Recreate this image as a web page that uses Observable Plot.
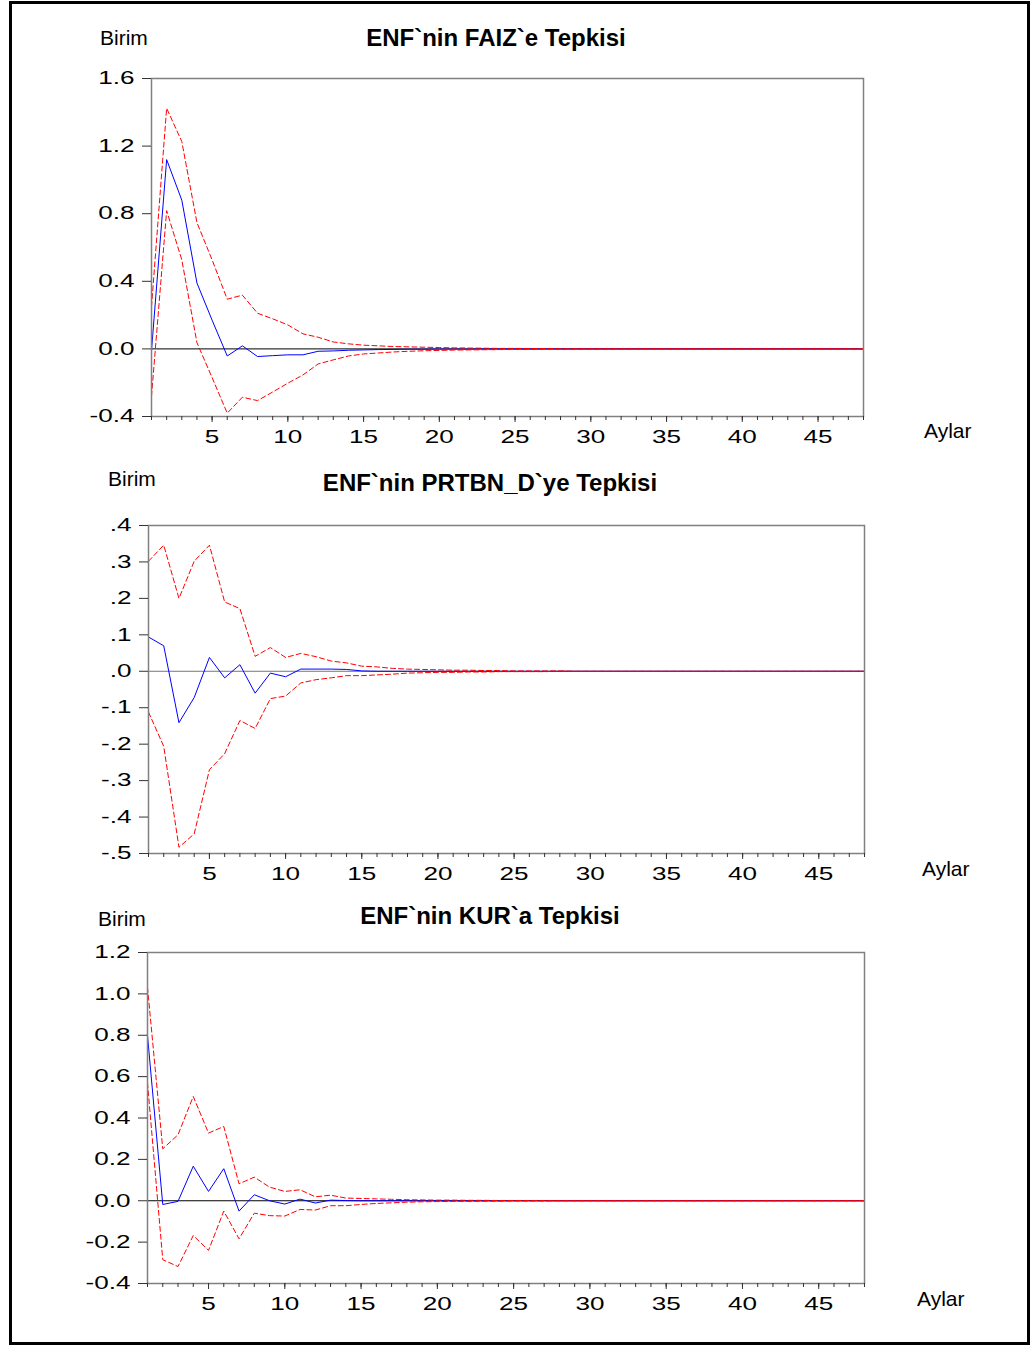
<!DOCTYPE html>
<html>
<head>
<meta charset="utf-8">
<script src="https://cdn.jsdelivr.net/npm/d3@7"></script>
<script src="https://cdn.jsdelivr.net/npm/@observablehq/plot@0.6"></script>
<style>
  html, body { margin: 0; padding: 0; background: #fff; }
  #root { position: relative; width: 1035px; height: 1345px; overflow: hidden; font-family: "Liberation Sans", Arial, sans-serif; }
  .border { position: absolute; left: 9px; top: 1px; width: 1015px; height: 1338px; border: 3px solid #000; }
  .lbl { position: absolute; font-size: 21px; color: #000; white-space: nowrap; line-height: 1; }
  .ttl { position: absolute; font-size: 24px; font-weight: bold; color: #000; white-space: nowrap; line-height: 1; transform: translateX(-50%); }
  .panel { position: absolute; left: 0; }
</style>
</head>
<body>
<div id="root">
  <div class="border"></div>
</div>
<script>
// ---------- data ----------
const periods = [1,2,3,4,5,6,7,8,9,10,11,12,13,14,15,16,17,18,19,20,21,22,23,24,25,26,27,28,29,30,31,32,33,34,35,36,37,38,39,40,41,42,43,44,45,46,47,48];
const xLabels = [5,10,15,20,25,30,35,40,45];

// Panel 1: ENF`nin FAIZ`e Tepkisi
const faizResp  = [-0.01,1.12,0.88,0.39,0.17,-0.042,0.018,-0.045,-0.04,-0.035,-0.035,-0.014,-0.012,-0.008,-0.006,-0.004,-0.003,-0.002,-0.002,-0.001,-0.001,-0.001,0,0,0,0,0,0,0,0,0,0,0,0,0,0,0,0,0,0,0,0,0,0,0,0,0,0];
const faizUpper = [0.25,1.424,1.227,0.747,0.527,0.294,0.318,0.211,0.178,0.142,0.089,0.069,0.041,0.03,0.022,0.018,0.014,0.012,0.01,0.008,0.006,0.005,0.004,0.003,0.003,0.002,0.002,0.001,0.001,0.001,0.001,0.001,0,0,0,0,0,0,0,0,0,0,0,0,0,0,0,0];
const faizLower = [-0.28,0.818,0.527,0.037,-0.17,-0.38,-0.286,-0.306,-0.255,-0.203,-0.154,-0.089,-0.065,-0.042,-0.03,-0.024,-0.018,-0.014,-0.011,-0.009,-0.007,-0.006,-0.005,-0.004,-0.003,-0.003,-0.002,-0.002,-0.001,-0.001,-0.001,-0.001,0,0,0,0,0,0,0,0,0,0,0,0,0,0,0,0];
const faizTicks = [-0.4,0,0.4,0.8,1.2,1.6];

// Panel 2: ENF`nin PRTBN_D`ye Tepkisi
const prtResp  = [0.094,0.07,-0.141,-0.072,0.038,-0.018,0.018,-0.06,-0.005,-0.015,0.006,0.006,0.006,0.005,0.001,0,0,0,0,0,0,0,0,0,0,0,0,0,0,0,0,0,0,0,0,0,0,0,0,0,0,0,0,0,0,0,0,0];
const prtUpper = [0.302,0.346,0.2,0.302,0.346,0.19,0.172,0.041,0.065,0.038,0.049,0.04,0.028,0.023,0.014,0.012,0.008,0.006,0.005,0.004,0.003,0.003,0.002,0.002,0.001,0.001,0.001,0.001,0,0,0,0,0,0,0,0,0,0,0,0,0,0,0,0,0,0,0,0];
const prtLower = [-0.112,-0.206,-0.483,-0.446,-0.27,-0.226,-0.135,-0.157,-0.075,-0.068,-0.032,-0.023,-0.018,-0.012,-0.012,-0.01,-0.008,-0.005,-0.004,-0.003,-0.003,-0.002,-0.002,-0.001,-0.001,-0.001,-0.001,0,0,0,0,0,0,0,0,0,0,0,0,0,0,0,0,0,0,0,0,0];
const prtTicks = [-0.5,-0.4,-0.3,-0.2,-0.1,0,0.1,0.2,0.3,0.4];

// Panel 3: ENF`nin KUR`a Tepkisi
const kurResp  = [0.799,-0.018,-0.003,0.167,0.045,0.155,-0.05,0.029,0,-0.016,0.008,-0.011,0.003,0.001,0,0,0,0,0,0,0,0,0,0,0,0,0,0,0,0,0,0,0,0,0,0,0,0,0,0,0,0,0,0,0,0,0,0];
const kurUpper = [1.032,0.251,0.319,0.504,0.327,0.359,0.082,0.114,0.066,0.045,0.053,0.019,0.027,0.013,0.011,0.009,0.007,0.005,0.004,0.003,0.003,0.002,0.002,0.001,0.001,0.001,0.001,0,0,0,0,0,0,0,0,0,0,0,0,0,0,0,0,0,0,0,0,0];
const kurLower = [0.57,-0.285,-0.318,-0.168,-0.24,-0.05,-0.184,-0.06,-0.072,-0.074,-0.042,-0.045,-0.024,-0.024,-0.018,-0.013,-0.01,-0.007,-0.005,-0.004,-0.003,-0.003,-0.002,-0.002,-0.001,-0.001,-0.001,0,0,0,0,0,0,0,0,0,0,0,0,0,0,0,0,0,0,0,0,0];
const kurTicks = [-0.4,-0.2,0,0.2,0.4,0.6,0.8,1.0,1.2];

const panels = [
  {title: "ENF`nin FAIZ`e Tepkisi", resp: faizResp, upper: faizUpper, lower: faizLower, ticks: faizTicks,
   fmt: d => d.toFixed(1), zero: "#000",
   top: 60, mt: 18, ph: 338, ml: 151, mr: 172,
   titleX: 496, titleY: 26, birimX: 100, birimY: 27, aylarX: 924, aylarY: 420},
  {title: "ENF`nin PRTBN_D`ye Tepkisi", resp: prtResp, upper: prtUpper, lower: prtLower, ticks: prtTicks,
   fmt: d => d.toFixed(1).replace("0.", "."), zero: "#777",
   top: 505, mt: 20, ph: 328, ml: 148, mr: 171,
   titleX: 490, titleY: 471, birimX: 108, birimY: 468, aylarX: 922, aylarY: 858},
  {title: "ENF`nin KUR`a Tepkisi", resp: kurResp, upper: kurUpper, lower: kurLower, ticks: kurTicks,
   fmt: d => d.toFixed(1), zero: "#000",
   top: 932, mt: 20, ph: 331, ml: 147, mr: 171,
   titleX: 490, titleY: 904, birimX: 98, birimY: 908, aylarX: 917, aylarY: 1288}
];

const root = document.getElementById("root");
const mb = 40;

function addText(cls, txt, x, y) {
  const d = document.createElement("div");
  d.className = cls;
  d.textContent = txt;
  d.style.left = x + "px";
  d.style.top = y + "px";
  root.appendChild(d);
}

for (const p of panels) {
  const chart = Plot.plot({
    width: 1035,
    height: p.mt + p.ph + mb,
    marginTop: p.mt,
    marginBottom: mb,
    marginLeft: p.ml,
    marginRight: p.mr,
    style: {fontFamily: "'Liberation Sans', Arial, sans-serif", fontSize: "18px", color: "#000", background: "transparent"},
    x: {domain: [1, 48]},
    y: {domain: [p.ticks[0], p.ticks[p.ticks.length - 1]]},
    marks: [
      Plot.ruleY([0], {stroke: p.zero, strokeWidth: 1}),
      Plot.line(periods, {x: d => d, y: (d, i) => p.resp[i], stroke: "#0000ff", strokeWidth: 1}),
      Plot.line(periods, {x: d => d, y: (d, i) => p.upper[i], stroke: "#ff0000", strokeWidth: 1, strokeDasharray: "5,3"}),
      Plot.line(periods, {x: d => d, y: (d, i) => p.lower[i], stroke: "#ff0000", strokeWidth: 1, strokeDasharray: "5,3"}),
      Plot.frame({stroke: "#808080", strokeWidth: 1.5}),
      Plot.axisY(p.ticks, {anchor: "left", tickSize: 9, tickPadding: 8, tickFormat: p.fmt, label: null, stroke: "#333"}),
      Plot.axisX(periods, {anchor: "bottom", tickSize: 4, tickFormat: () => "", label: null, stroke: "#333"}),
      Plot.axisX(xLabels, {anchor: "bottom", tickSize: 6, tickPadding: 8, tickFormat: d => String(d), label: null, stroke: "#333"})
    ]
  });
  // widen tick labels horizontally like the original
  chart.querySelectorAll('g[aria-label="y-axis tick label"] text, g[aria-label="x-axis tick label"] text').forEach(t => {
    const tr = t.getAttribute("transform") || "";
    t.setAttribute("transform", tr + " scale(1.45,1)");
  });
  chart.classList.add("panel");
  chart.style.top = p.top + "px";
  root.appendChild(chart);

  addText("ttl", p.title, p.titleX, p.titleY);
  addText("lbl", "Birim", p.birimX, p.birimY);
  addText("lbl", "Aylar", p.aylarX, p.aylarY);
}
</script>
</body>
</html>
